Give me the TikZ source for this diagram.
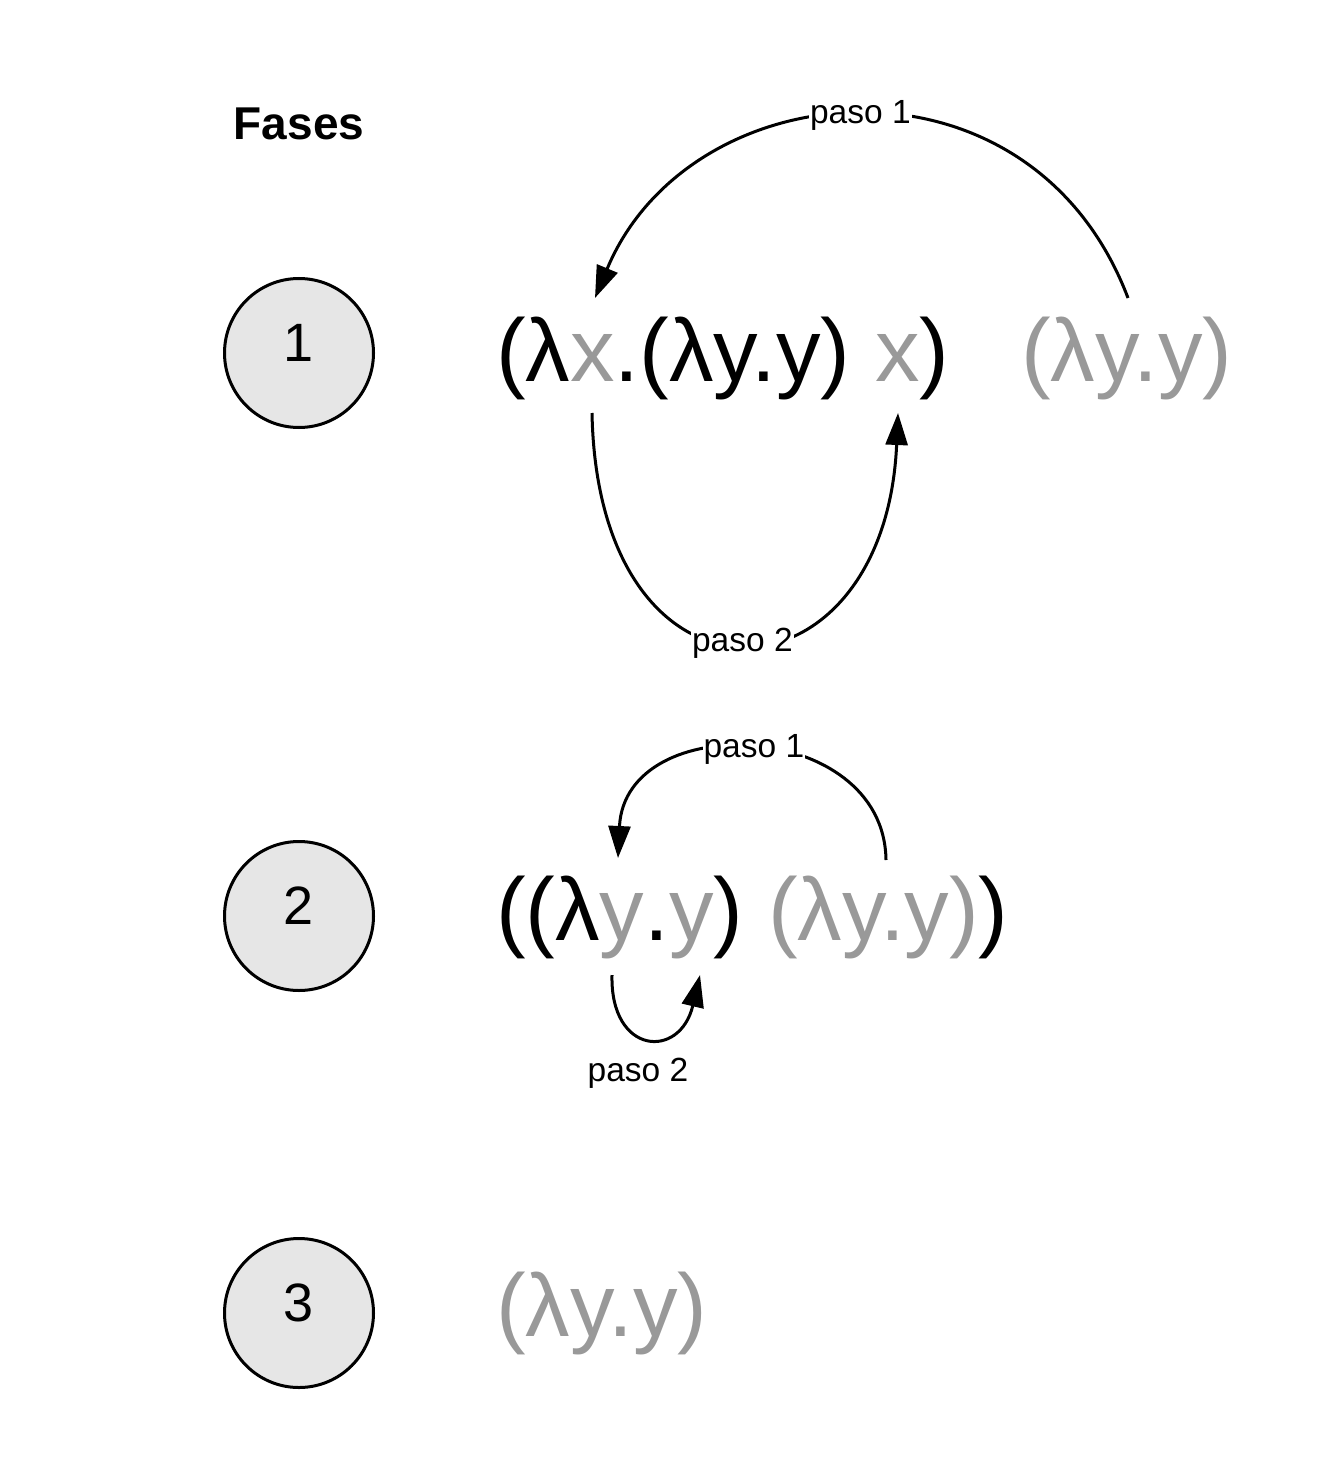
\documentclass[tikz,border=0pt]{standalone}
\usepackage{fontspec}
\setmainfont{Liberation Sans}
\usetikzlibrary{arrows.meta}

\definecolor{gris}{HTML}{999999}
\definecolor{relleno}{HTML}{E6E6E6}

\tikzset{
  fase/.style={circle, draw, line width=3pt, fill=relleno, minimum size=149pt,
    inner sep=0pt, text depth=20pt, font=\fontsize{54}{54}\selectfont},
  expr/.style={anchor=base west, inner sep=0pt, font=\fontsize{89}{89}\selectfont},
  paso/.style={fill=white, inner sep=1pt, font=\fontsize{33.5}{33.5}\selectfont},
  flecha/.style={line width=3pt, -{Triangle[length=32pt,width=22pt]}},
}

\begin{document}
\begin{tikzpicture}[x=1pt,y=-1pt]
  \useasboundingbox (0,0) rectangle (1318,1463);

  % Titulo
  \node[font=\bfseries\fontsize{46}{46}\selectfont] (titulo) at (299,124) {Fases};

  % Circulos de las fases
  \foreach \n/\y in {1/353,2/916,3/1313}{
    \node[fase] (f\n) at (299,\y) {\n};
  }

  % Expresiones de cada fase
  \node[expr] (e1) at (496,381) {(λ\textcolor{gris}{x}.(λy.y) \textcolor{gris}{x})};
  \node[expr, text=gris] (a1) at (1021,381) {(λy.y)};
  \node[expr] (e2) at (496,940) {((λ\textcolor{gris}{y}.\textcolor{gris}{y}) \textcolor{gris}{(λy.y)})};
  \node[expr, text=gris] (e3) at (496,1336) {(λy.y)};

  % Extremos de las flechas
  \coordinate (a1top) at (1128,298);
  \coordinate (x1top) at (595,298);
  \coordinate (x1bot) at (592,413);
  \coordinate (x2bot) at (898,413);
  \coordinate (a2top) at (886,860);
  \coordinate (y1top) at (618,858);
  \coordinate (y1bot) at (612,975);
  \coordinate (y2bot) at (700,975);

  % Fase 1
  \draw[flecha] (a1top) .. controls (1030,40) and (690,70) .. (x1top)
    node[paso, pos=0.5] (p11) {paso 1};
  \draw[flecha] (x1bot) .. controls (598,728) and (885,712) .. (x2bot)
    node[paso, pos=0.5] (p12) {paso 2};

  % Fase 2
  \draw[flecha] (a2top) .. controls (884,718) and (625,708) .. (y1top)
    node[paso, pos=0.5] (p21) {paso 1};
  \draw[flecha] (y1bot) .. controls (610,1055) and (680,1060) .. (y2bot);
  \node[paso] (p22) at (638,1073) {paso 2};

\end{tikzpicture}
\end{document}
